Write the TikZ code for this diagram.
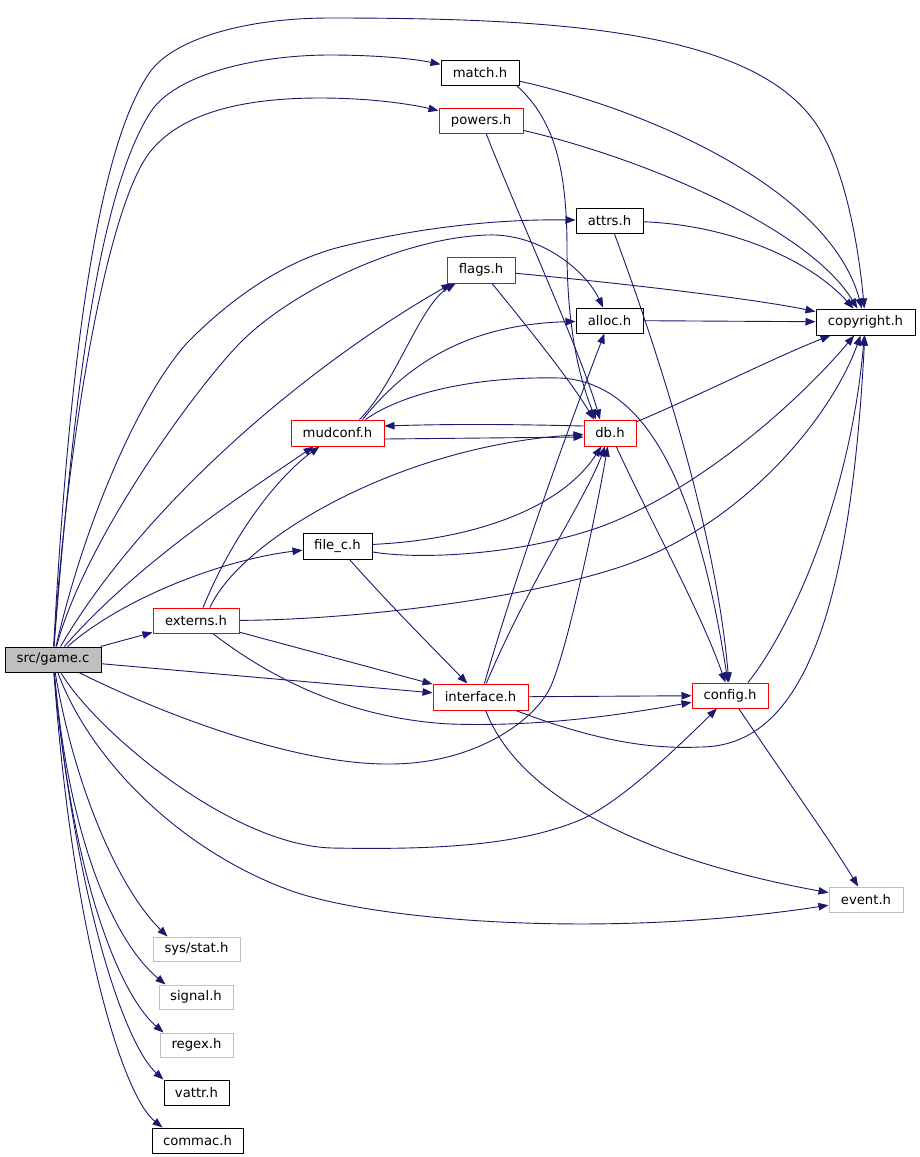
\documentclass[tikz,border=0pt]{standalone}
\usepackage{fontspec}
\newfontfamily\dvs{DejaVu Sans}
\usetikzlibrary{arrows.meta,calc}
\definecolor{edgec}{HTML}{191970}
\definecolor{grayb}{HTML}{BFBFBF}
\definecolor{redb}{HTML}{FF0000}
\tikzset{
  nb/.style={draw=black, line width=1pt, fill=white, minimum height=25pt, inner sep=0pt,
             font={\dvs\fontsize{13.2pt}{15pt}\selectfont}},
  redn/.style={nb, draw=redb},
  grayn/.style={nb, draw=grayb},
  e/.style={draw=edgec, line width=0.9pt, -{Triangle[length=10pt,width=7.5pt]}}
}
\begin{document}
\begin{tikzpicture}[x=1pt,y=-1pt]
\path[use as bounding box, fill=white] (0,0) rectangle (920,1157);

% nodes
\node[nb, fill=grayb, minimum width=96pt] (game) at (53,659.5) {src/game.c};
\node[redn, minimum width=86pt] (externs) at (196,620.5) {externs.h};
\node[nb, minimum width=78pt] (match) at (480,72.5) {match.h};
\node[redn, minimum width=84pt] (powers) at (481,120.5) {powers.h};
\node[nb, minimum width=67pt] (attrs) at (609.5,220.5) {attrs.h};
\node[redn, minimum width=68pt, minimum height=26pt] (flags) at (481,270) {flags.h};
\node[nb, minimum width=67pt] (alloc) at (609.5,320.5) {alloc.h};
\node[nb, minimum width=99pt, minimum height=26pt] (copyright) at (865.5,322) {copyright.h};
\node[redn, minimum width=93pt, minimum height=26pt] (mudconf) at (337.5,433) {mudconf.h};
\node[redn, minimum width=52pt, minimum height=26pt] (db) at (610,433) {db.h};
\node[nb, minimum width=69pt, minimum height=26pt] (filec) at (337.5,546) {file\_c.h};
\node[redn, minimum width=95pt, minimum height=26pt] (interface) at (480.5,697) {interface.h};
\node[redn, minimum width=76pt] (config) at (730,695.5) {config.h};
\node[grayn, minimum width=74pt] (event) at (866,899.5) {event.h};
\node[grayn, minimum width=87pt, minimum height=24pt] (sysstat) at (196.5,949) {sys/stat.h};
\node[grayn, minimum width=74pt, minimum height=24pt] (signal) at (196,997) {signal.h};
\node[grayn, minimum width=73pt, minimum height=24pt] (regex) at (196.5,1045) {regex.h};
\node[nb, minimum width=65pt] (vattr) at (196.5,1092.5) {vattr.h};
\node[nb, minimum width=91pt] (commac) at (197.5,1140.5) {commac.h};

% edges from src/game.c
\draw[e] (game) .. controls (68,380) and (95,150) .. (150,72) .. controls (172,41) and (240,18) .. (330,18) .. controls (560,18) and (760,30) .. (820,130) .. controls (844,170) and (858,240) .. (copyright);
\draw[e] (game) .. controls (72,420) and (95,200) .. (150,113) .. controls (175,73) and (260,55) .. (330,55) .. controls (370,55) and (410,58) .. (match);
\draw[e] (game) .. controls (68,430) and (108,205) .. (150,152) .. controls (180,114) and (240,98) .. (320,98) .. controls (370,98) and (410,104) .. (powers);
\draw[e] (game) .. controls (85,520) and (140,395) .. (187,343) .. controls (225,304) and (280,262) .. (340,247) .. controls (420,227) and (500,219) .. (attrs);
\draw[e] (game) .. controls (85,540) and (195,389) .. (240,343) .. controls (290,292) and (400,238) .. (487,235) .. controls (540,233) and (585,270) .. (alloc);
\draw[e] (game) .. controls (140,510) and (300,370) .. ($(flags.south west)+(5,0)$);
\draw[e] (game) .. controls (140,560) and (250,490) .. ($(mudconf.south)+(-24,0)$);
\draw[e] (game) .. controls (120,600) and (220,560) .. (filec);
\draw[e] (game) -- (externs);
\draw[e] (game) -- (interface);
\draw[e] (game) .. controls (170,718) and (300,765) .. (390,764) .. controls (470,764) and (530,725) .. (549,690) .. controls (565,660) and (595,520) .. (db);
\draw[e] (game) .. controls (95,730) and (230,845) .. (332,848) .. controls (440,850) and (520,845) .. (580,820) .. controls (620,803) and (680,745) .. (config);
\draw[e] (game) .. controls (90,760) and (180,850) .. (289,890) .. controls (370,920) and (600,940) .. (event);
\draw[e] (game) .. controls (75,790) and (120,890) .. ($(sysstat.north west)+(15,0)$);
\draw[e] (game) .. controls (70,850) and (118,945) .. ($(signal.north west)+(7,0)$);
\draw[e] (game) .. controls (72,880) and (120,995) .. ($(regex.north west)+(4,0)$);
\draw[e] (game) .. controls (75,900) and (125,1045) .. (vattr.north west);
\draw[e] (game) .. controls (72,930) and (122,1095) .. ($(commac.north west)+(11,0)$);

% edges from externs.h
\draw[e] ($(externs.north)+(7,0)$) .. controls (235,530) and (280,475) .. ($(mudconf.south)+(-18,0)$);
\draw[e] ($(externs.north)+(14,0)$) .. controls (240,540) and (400,445) .. (db);
\draw[e] (externs) .. controls (350,620) and (520,600) .. (620,567) .. controls (740,527) and (830,420) .. (copyright);
\draw[e] (externs) -- (interface);
\draw[e] (externs) .. controls (260,670) and (340,718) .. (450,724) .. controls (540,727) and (620,715) .. (config);

% edges from file_c.h
\draw[e] (filec) .. controls (470,540) and (560,510) .. (db);
\draw[e] (filec) .. controls (420,560) and (520,555) .. (600,527) .. controls (700,490) and (800,400) .. (copyright);
\draw[e] (filec) .. controls (390,605) and (430,645) .. (interface);

% edges from mudconf.h
\draw[e] ($(mudconf.north)+(22,0)$) .. controls (395,385) and (420,305) .. ($(flags.south west)+(9,0)$);
\draw[e] ($(mudconf.north)+(25,0)$) .. controls (395,380) and (450,325) .. (alloc);
\draw[e] ($(mudconf.north)+(28,0)$) .. controls (400,395) and (470,376) .. (560,378) .. controls (640,382) and (695,470) .. (config);
\draw[e] ([yshift=-6pt]mudconf.east) -- ([yshift=-4pt]db.west);

% edges from db.h
\draw[e] ([yshift=7pt]db.west) .. controls (500,424) and (450,424) .. ([yshift=7pt]mudconf.east);
\draw[e] (db) .. controls (700,395) and (780,355) .. (copyright);
\draw[e] (db) .. controls (650,520) and (700,610) .. (config);

% edges from match.h / powers.h / attrs.h / flags.h / alloc.h
\draw[e] (match) .. controls (650,110) and (830,190) .. (copyright);
\draw[e] ($(match.south east)+(-3,0)$) .. controls (555,120) and (567,170) .. (567,250) .. controls (567,330) and (580,380) .. ($(db.north)+(-14,0)$);
\draw[e] (powers) .. controls (650,160) and (810,230) .. (copyright);
\draw[e] (powers) .. controls (520,220) and (580,350) .. ($(db.north)+(-10,0)$);
\draw[e] (attrs) .. controls (730,225) and (810,260) .. (copyright);
\draw[e] (attrs) .. controls (650,330) and (715,520) .. (config);
\draw[e] (flags) .. controls (640,285) and (760,300) .. (copyright);
\draw[e] (flags) .. controls (530,330) and (570,380) .. ($(db.north)+(-16,0)$);
\draw[e] (alloc) -- (copyright);

% edges from interface.h
\draw[e] (interface) .. controls (520,560) and (575,410) .. (alloc);
\draw[e] (interface) .. controls (530,580) and (585,500) .. (db);
\draw[e] (interface) -- (config);
\draw[e] (interface) .. controls (580,735) and (640,750) .. (700,747) .. controls (800,747) and (850,620) .. (copyright);
\draw[e] (interface) .. controls (520,800) and (650,860) .. (event);

% edges from config.h
\draw[e] ($(config.north)+(18,0)$) .. controls (790,630) and (850,500) .. (copyright);
\draw[e] (config) .. controls (780,770) and (830,840) .. (event);
\end{tikzpicture}
\end{document}
